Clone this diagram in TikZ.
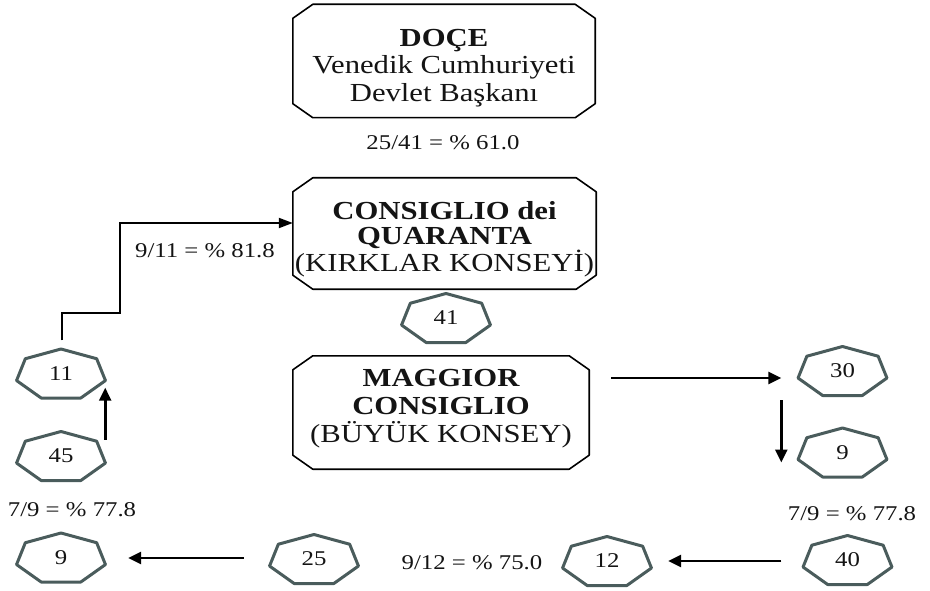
\documentclass[tikz,border=0pt]{standalone}
\usepackage{fontspec}
\setmainfont{Liberation Serif}[FakeStretch=1.18]
\usetikzlibrary{calc,arrows.meta}
\definecolor{heptc}{RGB}{74,92,92}
\definecolor{txt}{RGB}{20,20,20}
\newcommand\heptshape[1]{%
  \draw[heptline, shift={($(#1.center)+(0,1.3)$)}]
    (-90:45.6 and 25.8) -- (-38.571:45.6 and 25.8) -- (12.857:45.6 and 25.8)
    -- (64.286:45.6 and 25.8) -- (115.714:45.6 and 25.8) -- (167.143:45.6 and 25.8)
    -- (218.571:45.6 and 25.8) -- cycle;}
\newcommand\chambox[1]{%
  \draw[boxline] ($(#1.north west)+(20,0)$) -- ($(#1.north east)+(-20,0)$)
    -- ($(#1.north east)+(0,14)$) -- ($(#1.south east)+(0,-14)$)
    -- ($(#1.south east)+(-20,0)$) -- ($(#1.south west)+(20,0)$)
    -- ($(#1.south west)+(0,-14)$) -- ($(#1.north west)+(0,14)$) -- cycle;}
\begin{document}
\begin{tikzpicture}[x=1pt,y=-1pt,
  boxn/.style={rectangle, inner sep=0pt, align=center, text=txt, text depth=0pt},
  heptn/.style={rectangle, inner sep=0pt, minimum width=92pt, minimum height=52pt, font=\fontsize{21}{23}\selectfont, text=txt},
  heptline/.style={draw=heptc, line width=3pt, line join=round},
  boxline/.style={draw=black, line width=1.6pt, line join=round},
  lbl/.style={font=\fontsize{21}{23}\selectfont, text=txt, inner sep=0pt},
  arr/.style={line width=2.6pt, -{Triangle[length=13pt,width=12pt]}},
  conn/.style={line width=2pt, -{Triangle[length=14pt,width=10pt]}}
]
\useasboundingbox (0,0) rectangle (930,591);

% boxes
\node[boxn, minimum width=302pt, minimum height=113pt, text height=81pt, font=\fontsize{26}{27.5}\selectfont] (doce) at (444,61) {{\bfseries DOÇE}\\Venedik Cumhuriyeti\\Devlet Başkanı};
\node[boxn, minimum width=303pt, minimum height=111pt, text height=75pt, font=\fontsize{26}{25}\selectfont] (cons) at (444.5,233.5) {{\bfseries CONSIGLIO dei}\\{\bfseries QUARANTA}\\(KIRKLAR KONSEYİ)};
\node[boxn, minimum width=296pt, minimum height=113pt, text height=59pt, font=\fontsize{26}{28}\selectfont] (mag) at (441,412.5) {{\bfseries MAGGIOR}\\{\bfseries CONSIGLIO}\\(BÜYÜK KONSEY)};
\chambox{doce}
\chambox{cons}
\chambox{mag}

% heptagons
\node[heptn] (h41) at (446,318) {41};
\node[heptn] (h11) at (61,373.5) {11};
\node[heptn] (h45) at (61,456) {45};
\node[heptn] (h9l) at (61,557.5) {9};
\node[heptn] (h25) at (314,559) {25};
\node[heptn] (h12) at (607,561) {12};
\node[heptn] (h40) at (847.5,560) {40};
\node[heptn] (h30) at (842.5,371) {30};
\node[heptn] (h9r) at (842.5,452.5) {9};
\foreach \h in {h41,h11,h45,h9l,h25,h12,h40,h30,h9r}{\heptshape{\h}}

% labels
\node[lbl] (l1) at (443,143) {25/41 = \% 61.0};
\node[lbl] (l2) at (205,251) {9/11 = \% 81.8};
\node[lbl] (l3) at (72,510) {7/9 = \% 77.8};
\node[lbl] (l4) at (852,514) {7/9 = \% 77.8};
\node[lbl] (l5) at (472,563) {9/12 = \% 75.0};

% connectors
\draw[conn] ($(h11.north)+(1,-7)$) |- ++(58,-27) |- ($(cons.west)+(0,-10.5)$);
\draw[arr] ($(h45.north east)+(-2,10)$) -- ($(h11.south east)+(-2,-12)$);
\draw[arr] ($(mag.east |- h30.west)+(22,7)$) -- ($(h30.west)+(-15,7)$);
\draw[arr] ($(h30.south west)+(-15,3)$) -- ($(h9r.west)+(-15,10)$);
\draw[arr] ($(h40.west)+(-20,1)$) -- ($(h12.east |- h40.west)+(15,1)$);
\draw[arr] ($(h25.west)+(-24,-1)$) -- ($(h9l.east |- h25.west)+(21,-1)$);
\end{tikzpicture}
\end{document}
